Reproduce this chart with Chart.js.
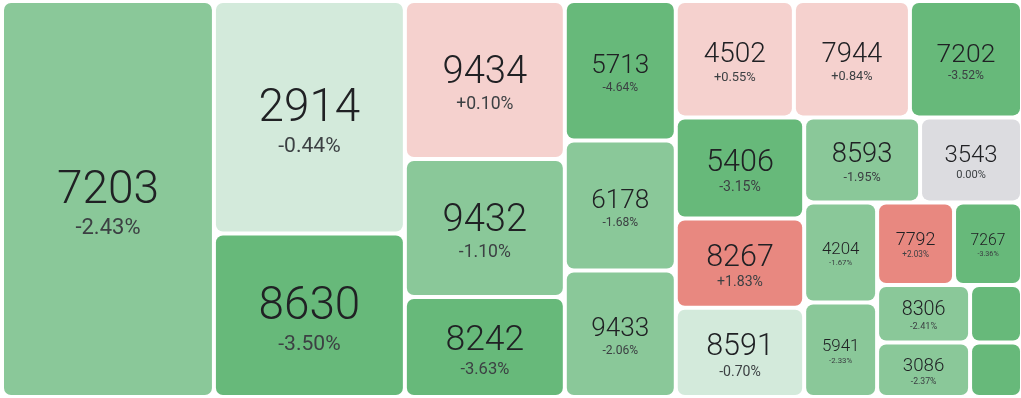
<!DOCTYPE html>
<html>
<head>
<meta charset="utf-8">
<script src="https://cdn.jsdelivr.net/npm/chart.js@4.4.1/dist/chart.umd.min.js"></script>
<style>
  html, body { margin: 0; padding: 0; background: #fff; }
  #wrap { width: 1021px; height: 398px; position: relative; }
</style>
</head>
<body>
<div id="wrap"><canvas id="treemapChart"></canvas></div>
<script>
/* ─── DATA ──────────────────────────────────────────────
   One entry per tile, sorted by weight (largest first).
   Weights set the tile area, changes set the colour.     */
const codes   = ['7203', '2914', '8630', '9434', '9432', '8242', '5713', '6178', '9433',
                 '4502', '7944', '7202', '5406', '8267', '8591', '8593', '3543', '4204',
                 '5941', '7792', '7267', '8306', '3086', '', ''];
const weights = [83.95, 44.41, 31.23, 25.28, 22.08, 16.00, 15.49, 14.43, 14.04,
                 13.75, 13.51, 13.05, 12.99, 11.46, 11.46, 9.86, 8.67, 7.30,
                 6.90, 6.35, 5.61, 5.35, 5.07, 2.99, 2.83];
const changes = [-2.43, -0.44, -3.50, 0.10, -1.10, -3.63, -4.64, -1.68, -2.06,
                 0.55, 0.84, -3.52, -3.15, 1.83, -0.70, -1.95, 0.00, -1.67,
                 -2.33, 2.03, -3.36, -2.41, -2.37, -3.40, -3.20];

/* treemap box in scale units */
const BOX_W = 1020;
const BOX_H = 396;
const GAP = 4;
const FONT = 'Roboto, "Noto Sans", sans-serif';

function tileColor(v) {
  if (v <= -3) return '#67b97a';
  if (v <= -1) return '#8ac899';
  if (v < 0)   return '#d3eadb';
  if (v === 0) return '#dcdce0';
  if (v < 1)   return '#f5d1ce';
  return '#e88880';
}

function fmtChange(v) {
  const s = v.toFixed(2) + '%';
  return v > 0 ? '+' + s : s;
}

/* ─── SQUARIFIED LAYOUT ─────────────────────────────────
   Classic squarify: fill rows along the short side while
   the worst aspect ratio keeps improving.               */
function worst(row, side) {
  const s = row.reduce((a, b) => a + b, 0);
  let m = 0;
  row.forEach((r) => {
    m = Math.max(m, (side * side * r) / (s * s), (s * s) / (side * side * r));
  });
  return m;
}

function squarify(values, W, H) {
  const total = values.reduce((a, b) => a + b, 0);
  const areas = values.map((v) => v * W * H / total);
  const out = [];
  let x = 0, y = 0, w = W, h = H, i = 0;
  while (i < areas.length) {
    const side = Math.min(w, h);
    const row = [areas[i]];
    let j = i + 1;
    while (j < areas.length && worst(row.concat(areas[j]), side) <= worst(row, side)) {
      row.push(areas[j]);
      j++;
    }
    const sum = row.reduce((a, b) => a + b, 0);
    if (w >= h) {
      const cw = sum / h;
      let cy = y;
      row.forEach((a) => { out.push({ x: x, y: cy, w: cw, h: a / cw }); cy += a / cw; });
      x += cw; w -= cw;
    } else {
      const rh = sum / w;
      let cx = x;
      row.forEach((a) => { out.push({ x: cx, y: y, w: a / rh, h: rh }); cx += a / rh; });
      y += rh; h -= rh;
    }
    i = j;
  }
  return out;
}

/* ─── TREEMAP PLUGIN ────────────────────────────────────
   Draws the tiles through the chart's x / y scales.     */
const treemapPlugin = {
  id: 'treemapCells',
  afterDatasetsDraw(chart) {
    const ctx = chart.ctx;
    const xs = chart.scales.x;
    const ys = chart.scales.y;
    const cells = squarify(weights, BOX_W, BOX_H);

    cells.forEach((c, i) => {
      const l = xs.getPixelForValue(c.x) + GAP / 2;
      const r = xs.getPixelForValue(c.x + c.w) - GAP / 2;
      const t = ys.getPixelForValue(c.y) + GAP / 2;
      const b = ys.getPixelForValue(c.y + c.h) - GAP / 2;
      const pw = r - l, ph = b - t;

      ctx.save();
      ctx.fillStyle = tileColor(changes[i]);
      ctx.beginPath();
      ctx.roundRect(l, t, pw, ph, 7);
      ctx.fill();
      ctx.restore();

      if (!codes[i] || pw < 55) return;

      const numFont = Math.min(pw * 0.245, ph * 0.37, 46);
      const pctFont = Math.min(pw * 0.113, ph * 0.172, 22);
      const numCap = numFont * 0.711;
      const pctCap = pctFont * 0.711;
      const gap = numFont * 0.3 + pctFont * 0.1;
      const block = numCap + gap + pctCap;
      const cx = (l + r) / 2;
      const top = (t + b) / 2 - block / 2 + numFont * 0.07;

      ctx.save();
      ctx.textAlign = 'center';
      ctx.textBaseline = 'alphabetic';
      ctx.fillStyle = '#202124';
      ctx.font = '300 ' + numFont.toFixed(1) + 'px ' + FONT;
      ctx.fillText(codes[i], cx, top + numCap);
      ctx.fillStyle = '#3c4043';
      ctx.font = pctFont.toFixed(1) + 'px ' + FONT;
      ctx.fillText(fmtChange(changes[i]), cx, top + numCap + gap + pctCap);
      ctx.restore();
    });
  }
};

function initTreemap() {
  const el = document.getElementById('treemapChart');
  if (!el || typeof Chart === 'undefined') return;
  new Chart(el, {
    type: 'scatter',
    data: { datasets: [{ data: [] }] },
    options: {
      responsive: true,
      maintainAspectRatio: false,
      animation: false,
      layout: { padding: { left: 2, top: 1, right: 0, bottom: 1 } },
      plugins: { legend: { display: false }, tooltip: { enabled: false } },
      scales: {
        // 1019 px of chart area hold 1019 units, so the box edge lands just off canvas
        x: { type: 'linear', display: false, min: 0, max: BOX_W - 1 },
        y: { type: 'linear', display: false, min: 0, max: BOX_H, reverse: true }
      }
    },
    plugins: [treemapPlugin]
  });
}

initTreemap();
</script>
</body>
</html>
